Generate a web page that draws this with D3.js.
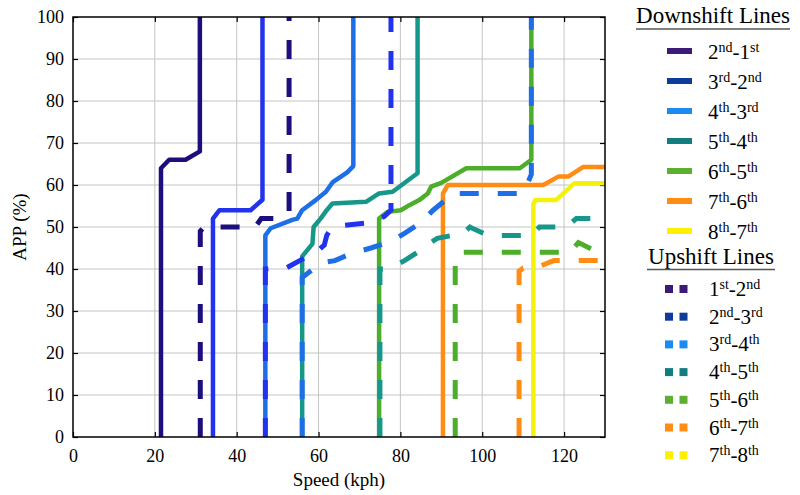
<!DOCTYPE html>
<html lang="en">
<head>
  <meta charset="utf-8">
  <title>Shift schedule</title>
  <script src="https://cdn.jsdelivr.net/npm/d3@7"></script>
  <style>
    body { margin: 0; background: #fff; }
  </style>
</head>
<body>
  <div id="chart-area"></div>

  <script>
    // ---- data: [speed kph, APP %] ----
    var xTicks = [0, 20, 40, 60, 80, 100, 120];
    var yTicks = [0, 10, 20, 30, 40, 50, 60, 70, 80, 90, 100];

    var downNames = ["2nd-1st", "3rd-2nd", "4th-3rd", "5th-4th", "6th-5th", "7th-6th", "8th-7th"];
    var upNames = ["1st-2nd", "2nd-3rd", "3rd-4th", "4th-5th", "5th-6th", "6th-7th", "7th-8th"];

    var lineColors = ["#1d0e7d", "#2233ee", "#1e6fe6", "#17978a", "#4cae2a", "#ff8c14", "#f2f20a"];
    var legendColors = ["#3d1a78", "#0e3c9a", "#1a8cf0", "#127d80", "#5cb030", "#ff8c14", "#ffef00"];

    var down21 = [[21.5, 0], [21.5, 64], [23.5, 66], [27.5, 66], [31, 68], [31, 100]];
    var down32 = [[34.2, 0], [34.2, 52], [35.8, 54], [43.4, 54], [46.3, 56.5], [46.3, 100]];
    var down43 = [[47, 0], [47, 48], [48.3, 49.7], [53.6, 51.7], [54.8, 52], [56, 54], [59.3, 56.4],
                  [61.8, 58.4], [63.4, 60.6], [67, 63], [68.5, 64.5], [68.5, 100]];
    var down54 = [[56, 0], [56, 43], [58.5, 46], [58.8, 50], [60.5, 52], [62, 54], [63.4, 55.6],
                  [71.6, 56], [74.8, 58], [78.1, 58.4], [84.2, 62.8], [84.2, 100]];
    var down65 = [[74.8, 0], [74.8, 52], [76.9, 53.6], [80.1, 54], [82.2, 55.2], [84.6, 56.4], [86.7, 58],
                  [87.5, 59.6], [90, 60.5], [96.1, 64], [109.2, 64], [112, 66], [112, 100]];
    var down76 = [[90.4, 0], [90.4, 58], [91.6, 60], [114.9, 60], [118.6, 62], [121, 62], [124.7, 64.3], [130, 64.3]];
    var down87 = [[112.5, 0], [112.5, 55.5], [113, 56.4], [118, 56.4], [122.5, 60.4], [130, 60.4]];

    var up12 = [[31.1, 0], [31.1, 49], [32, 50], [44.5, 50], [46, 52], [50.5, 52], [52.8, 53.5], [52.8, 100]];
    var up23 = [[47, 0], [47, 40], [49, 40.2], [52, 40.2], [57.3, 43], [60, 44.5], [61.4, 45.7], [62, 48],
                [63, 49.5], [65, 50.3], [72.4, 51], [76, 52.5], [77.7, 54], [77.7, 100]];
    var up34 = [[56, 0], [56, 38], [59, 40.2], [61, 41.5], [64, 42], [68, 43.7], [72.8, 45], [76, 46],
                [79, 47.3], [81, 48.5], [85, 51], [88, 54], [91, 56.4], [93, 58], [109.5, 58], [110.5, 59],
                [112, 62.5], [112, 100]];
    var up45 = [[75, 0], [75, 40], [77, 40], [79, 41], [81, 42], [85, 44.5], [87, 46], [89, 47.3], [93.2, 48.1],
                [95, 48.2], [97, 50], [98, 49.5], [101.4, 48], [112, 48], [114, 50], [120.5, 50], [123, 52], [130, 52]];
    var up56 = [[93.4, 0], [93.4, 42], [94.5, 44], [121.5, 44], [123.5, 46.3], [128.3, 44], [130, 43]];
    var up67 = [[109, 0], [109, 39.5], [110, 40.2], [113, 40.2], [115.7, 41.3], [117.5, 42], [130, 42]];
    var up78 = [[132, 0], [132, 60]];

    var downSeries = [down21, down32, down43, down54, down65, down76, down87];
    var upSeries = [up12, up23, up34, up45, up56, up67, up78];

    var serif = "'Liberation Serif', 'Times New Roman', Times, serif";

    // ---- layout ----
    var svgWidth = 800, svgHeight = 495;
    var margin = { top: 17, left: 73, bottom: 58, right: 195 };
    var width = svgWidth - margin.left - margin.right;
    var height = svgHeight - margin.top - margin.bottom;

    var svg = d3.select("#chart-area")
                .append("svg")
                .attr("width", svgWidth)
                .attr("height", svgHeight)
                .style("font-family", serif);

    var g = svg.append("g")
               .attr("transform", "translate(" + margin.left + "," + margin.top + ")");

    var x = d3.scaleLinear().domain([0, 130]).range([0, width]);
    var y = d3.scaleLinear().domain([0, 100]).range([height, 0]);

    // grid
    g.append("g").selectAll("line").data(xTicks.slice(1)).enter().append("line")
     .attr("x1", d => x(d)).attr("x2", d => x(d)).attr("y1", 0).attr("y2", height)
     .attr("stroke", "#c4c4c4").attr("stroke-width", 1);
    g.append("g").selectAll("line").data(yTicks.slice(1, -1)).enter().append("line")
     .attr("y1", d => y(d)).attr("y2", d => y(d)).attr("x1", 0).attr("x2", width)
     .attr("stroke", "#c4c4c4").attr("stroke-width", 1);

    // axes (ticks point inward)
    g.append("g").attr("transform", "translate(0," + height + ")")
     .call(d3.axisBottom(x).tickValues(xTicks).tickSizeInner(-5).tickSizeOuter(0).tickPadding(12));
    g.append("g")
     .call(d3.axisLeft(y).tickValues(yTicks).tickSizeInner(-5).tickSizeOuter(0).tickPadding(9));
    g.append("g").call(d3.axisTop(x).tickValues(xTicks).tickSizeInner(-5).tickSizeOuter(0).tickFormat(""));
    g.append("g").attr("transform", "translate(" + width + ",0)")
     .call(d3.axisRight(y).tickValues(yTicks).tickSizeInner(-5).tickSizeOuter(0).tickFormat(""));
    g.selectAll(".domain").remove();
    g.selectAll(".tick line").attr("stroke", "#000").attr("stroke-width", 1.2);
    g.selectAll(".tick text")
     .attr("font-family", null)
     .style("font-family", serif)
     .style("font-size", "18px")
     .attr("fill", "#000");

    // clip for the shift lines
    svg.append("defs").append("clipPath").attr("id", "plot-clip")
       .append("rect").attr("x", 0).attr("y", -3).attr("width", width).attr("height", height + 6);

    var line = d3.line().x(d => x(d[0])).y(d => y(d[1]));
    var lines = g.append("g").attr("clip-path", "url(#plot-clip)");

    lines.selectAll("path.down").data(downSeries).enter().append("path")
         .attr("class", "down")
         .attr("d", line)
         .attr("fill", "none")
         .attr("stroke", (d, i) => lineColors[i])
         .attr("stroke-width", 4.5)
         .attr("stroke-linejoin", "round");

    lines.selectAll("path.up").data(upSeries).enter().append("path")
         .attr("class", "up")
         .attr("d", line)
         .attr("fill", "none")
         .attr("stroke", (d, i) => lineColors[i])
         .attr("stroke-width", 5)
         .attr("stroke-dasharray", "19,19");

    // frame
    g.append("rect").attr("width", width).attr("height", height)
     .attr("fill", "none").attr("stroke", "#000").attr("stroke-width", 1.5);

    // axis titles
    svg.append("text").attr("x", margin.left + width / 2).attr("y", 486)
       .attr("text-anchor", "middle").style("font-family", serif).style("font-size", "19px")
       .text("Speed (kph)");
    svg.append("text").attr("transform", "translate(26," + (margin.top + height / 2) + ") rotate(-90)")
       .attr("text-anchor", "middle").style("font-family", serif).style("font-size", "19px")
       .text("APP (%)");

    // ---- legend ----
    function gearLabel(parent, txt, lx, ly) {
      var t = parent.append("text").attr("x", lx).attr("y", ly).style("font-family", serif);
      var raised = false;
      txt.match(/\d|st|nd|rd|th|-/g).forEach(function (p) {
        if (/\d/.test(p) || p === "-") {
          t.append("tspan").attr("dy", raised ? 7 : 0).style("font-size", "21px").text(p);
          raised = false;
        } else {
          t.append("tspan").attr("dy", raised ? 0 : -7).style("font-size", "14px").text(p);
          raised = true;
        }
      });
    }

    var legend = svg.append("g");

    legend.append("text").attr("x", 713).attr("y", 23).attr("text-anchor", "middle")
          .style("font-family", serif).style("font-size", "23px").text("Downshift Lines");
    legend.append("line").attr("x1", 636).attr("x2", 790).attr("y1", 29).attr("y2", 29)
          .attr("stroke", "#555").attr("stroke-width", 1.5);

    downNames.forEach(function (name, i) {
      var cy = 51 + i * 30;
      legend.append("rect").attr("x", 667).attr("y", cy - 3).attr("width", 25).attr("height", 6)
            .attr("fill", legendColors[i]);
      gearLabel(legend, name, 708, cy + 8);
    });

    legend.append("text").attr("x", 711).attr("y", 264).attr("text-anchor", "middle")
          .style("font-family", serif).style("font-size", "23px").text("Upshift Lines");
    legend.append("line").attr("x1", 647).attr("x2", 775).attr("y1", 269.5).attr("y2", 269.5)
          .attr("stroke", "#555").attr("stroke-width", 1.5);

    upNames.forEach(function (name, i) {
      var cy = 289 + i * 27.7;
      [665, 679.5].forEach(function (sx) {
        legend.append("rect").attr("x", sx).attr("y", cy - 4).attr("width", 8).attr("height", 8)
              .attr("fill", legendColors[i]);
      });
      gearLabel(legend, name, 709, cy + 7);
    });
  </script>
</body>
</html>
